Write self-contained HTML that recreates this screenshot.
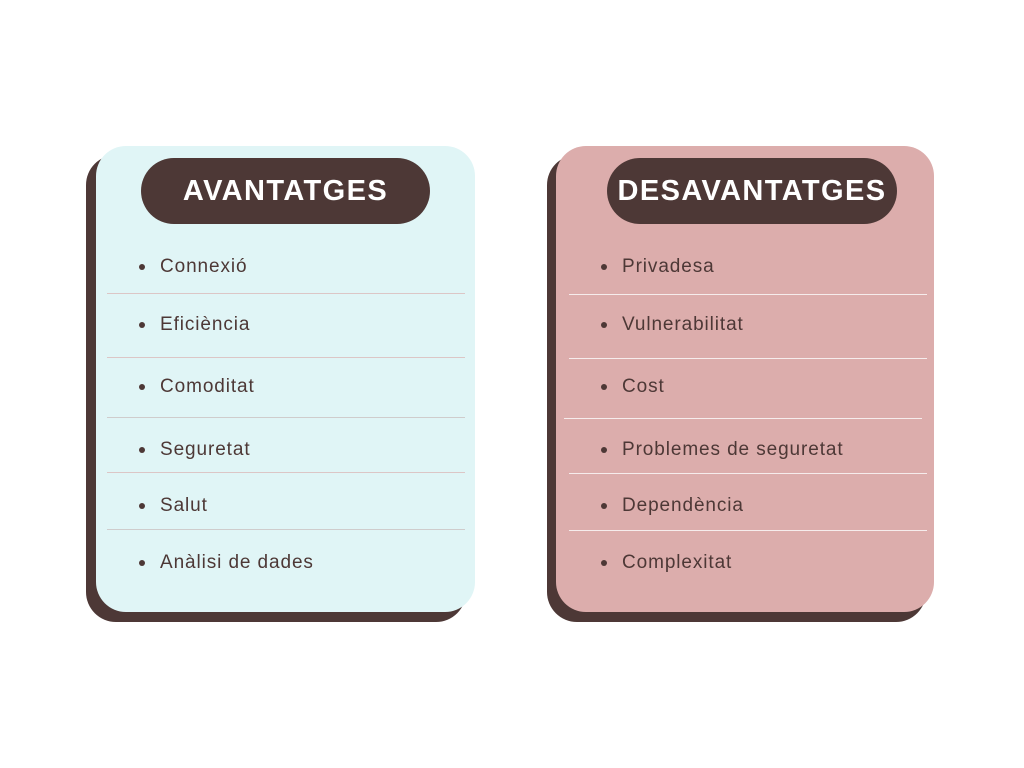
<!DOCTYPE html>
<html><head><style>
body{margin:0;width:1024px;height:768px;background:#fff;position:relative;overflow:hidden;font-family:"Liberation Sans",sans-serif;color:#4d3836}
.a{position:absolute}
.sh{background:#4d3836;border-radius:30px}
.pill{background:#4d3836;border-radius:33px;color:#fff;font-weight:bold;font-size:29px;text-align:center;line-height:66px;letter-spacing:1.4px}
.t{position:absolute;font-size:19px;line-height:20px;letter-spacing:0.9px}
.t:before{content:"";position:absolute;left:-21px;top:7px;width:6px;height:6px;border-radius:50%;background:#4d3836}
.ln{position:absolute;height:1px}
</style></head><body>
<div class="a sh" style="left:86px;top:155px;width:380px;height:467px"></div>
<div class="a" style="left:96px;top:146px;width:379px;height:466px;background:#e0f5f6;border-radius:30px"></div>
<div class="a pill" style="left:141px;top:158px;width:289px;height:66px">AVANTATGES</div>
<div class="t" style="left:160px;top:257px">Connexió</div>
<div class="t" style="left:160px;top:315px">Eficiència</div>
<div class="t" style="left:160px;top:377px">Comoditat</div>
<div class="t" style="left:160px;top:440px">Seguretat</div>
<div class="t" style="left:160px;top:496px">Salut</div>
<div class="t" style="left:160px;top:553px">Anàlisi de dades</div>
<div class="ln" style="left:107px;top:293px;width:358px;background:#dcc6c6"></div>
<div class="ln" style="left:107px;top:357px;width:358px;background:#dcc6c6"></div>
<div class="ln" style="left:107px;top:417px;width:358px;background:#cfcccc"></div>
<div class="ln" style="left:107px;top:472px;width:358px;background:#dcc6c6"></div>
<div class="ln" style="left:107px;top:529px;width:358px;background:#cfcccc"></div>

<div class="a sh" style="left:547px;top:155px;width:379px;height:467px"></div>
<div class="a" style="left:556px;top:146px;width:378px;height:466px;background:#dcadac;border-radius:30px"></div>
<div class="a pill" style="left:607px;top:158px;width:290px;height:66px">DESAVANTATGES</div>
<div class="t" style="left:622px;top:257px">Privadesa</div>
<div class="t" style="left:622px;top:315px">Vulnerabilitat</div>
<div class="t" style="left:622px;top:377px">Cost</div>
<div class="t" style="left:622px;top:440px">Problemes de seguretat</div>
<div class="t" style="left:622px;top:496px">Dependència</div>
<div class="t" style="left:622px;top:553px">Complexitat</div>
<div class="ln" style="left:569px;top:294px;width:358px;background:#f6ecec"></div>
<div class="ln" style="left:569px;top:358px;width:358px;background:#f6ecec"></div>
<div class="ln" style="left:564px;top:418px;width:358px;background:#f6ecec"></div>
<div class="ln" style="left:569px;top:473px;width:358px;background:#f6ecec"></div>
<div class="ln" style="left:569px;top:530px;width:358px;background:#f6ecec"></div>
</body></html>
